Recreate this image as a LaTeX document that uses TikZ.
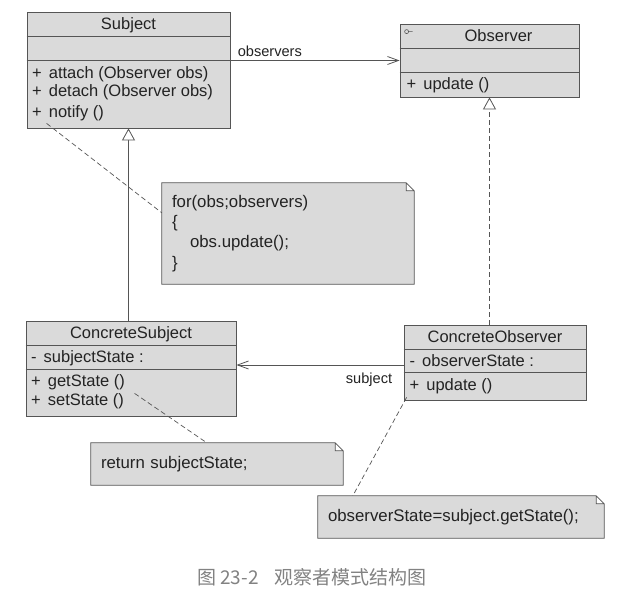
\documentclass[tikz,border=0pt]{standalone}
\usepackage{fontspec}
\setmainfont{Liberation Sans}
\newfontfamily\cjkfont{Noto Sans CJK SC}
\usetikzlibrary{arrows.meta,backgrounds}
\definecolor{boxfill}{RGB}{218,218,218}
\definecolor{boxline}{RGB}{85,85,85}
\definecolor{inktext}{RGB}{35,35,35}
\definecolor{captiongray}{RGB}{130,130,130}

\begin{document}
\begin{tikzpicture}[x=1pt,y=-1pt]
  \tikzstyle{class box}=[draw=boxline,fill=boxfill,line width=0.8pt,inner sep=0];
  \tikzstyle{note box}=[inner sep=0,inner xsep=10pt,align=left,text=inktext,font=\fontsize{16.8}{20.3}\selectfont];
  \tikzstyle{title}=[text=inktext,font=\fontsize{16.5}{19}\selectfont,inner sep=0,text height=11.8pt,text depth=0pt];
  \tikzstyle{member}=[title,anchor=west];
  \tikzstyle{role}=[text=inktext,font=\fontsize{14.6}{17}\selectfont,inner sep=2pt,text height=10.4pt,text depth=0pt];
  \tikzstyle{border}=[draw=boxline,line width=0.8pt];
  \tikzstyle{note link}=[draw=boxline,line width=0.7pt,dash pattern=on 5pt off 3pt];
  \tikzstyle{inherit}=[border,-{Triangle[open,length=12pt,width=13pt,fill=white]}];
  \tikzstyle{assoc}=[border,-{Straight Barb[length=11pt,width=8pt]}];
  \useasboundingbox (0,0) rectangle (631,597);
  % classes
  \node[class box,minimum width=203pt,minimum height=116pt] (subj) at (128.5,70) {};
  \node[class box,minimum width=179pt,minimum height=73pt] (obs) at (489.5,60.5) {};
  \node[class box,minimum width=210pt,minimum height=95pt] (cs) at (131,368.5) {};
  \node[class box,minimum width=182pt,minimum height=75pt] (co) at (495,362.5) {};
  \foreach \n/\a/\b in {subj/36/60,obs/48/72,cs/345/369,co/349/372}
    \draw[border] (\n.west |- 0,\a) -- (\n.east |- 0,\a) (\n.west |- 0,\b) -- (\n.east |- 0,\b);
  \draw[border,line width=0.6pt] ([xshift=7pt,yshift=-8pt]obs.north west) circle (2pt) ++(2,0) -- ++(4,0);
  \node[title] (subj-title) at (subj.north |- 0,24) {Subject};
  \node[title] (obs-title) at (498.5,36) {Observer};
  \node[title] (cs-title) at (cs.north |- 0,333) {ConcreteSubject};
  \node[title] (co-title) at (co.north |- 0,337) {ConcreteObserver};
  \foreach \y/\t [count=\i] in {73/{attach (Observer obs)},91/{detach (Observer obs)},112/{notify ()}}
    \node[member] (subj-op\i) at (32,\y) {+\hspace{7pt}\t};
  \node[member] (obs-op1) at (406.5,84) {+\hspace{7pt}update ()};
  \node[member] (cs-attr1) at (31,357) {-\hspace{7pt}subjectState :};
  \node[member] (cs-op1) at (31,381) {+\hspace{7pt}getState ()};
  \node[member] (cs-op2) at (31,400) {+\hspace{7pt}setState ()};
  \node[member] (co-attr1) at (409.5,361) {-\hspace{7pt}observerState :};
  \node[member] (co-op1) at (409.5,385) {+\hspace{7pt}update ()};
  % notes
  \node[note box,text width=232pt,minimum height=101pt] (fornote) at (288,233.5)
    {for(obs;observers)\\\{\\\hspace*{18pt}obs.update();\\\}};
  \node[note box,text width=232pt,minimum height=42pt] (retnote) at (217,464) {return subjectState;};
  \node[note box,text width=266pt,minimum height=42pt] (obsnote) at (461,517) {observerState=subject.getState();};
  \begin{scope}[on background layer]
    \fill[white] (0,0) rectangle (631,597);
    \foreach \n in {fornote,retnote,obsnote}
      \filldraw[border,fill=boxfill] (\n.south west) -- (\n.north west) -- ([xshift=-8pt]\n.north east)
        -- ([yshift=-8pt]\n.north east) -- (\n.south east) -- cycle
        ([xshift=-8pt]\n.north east) -- ++(0,8) -- ++(8,0);
  \end{scope}
  % relations
  \draw[assoc] (subj.east |- obs.west) -- (obs.west)
    node[role,pos=0,anchor=south west,xshift=5pt,yshift=2pt] (obs-role) {observers};
  \draw[assoc] ([yshift=-2.5pt]co.west) -- ([yshift=-2.5pt]co.west -| cs.east)
    node[role,pos=0,anchor=north east,xshift=-9pt,yshift=-5.5pt] (co-role) {subject};
  \draw[inherit] (cs.north -| subj.south) -- (subj.south);
  \draw[inherit,dash pattern=on 5pt off 3pt] (co.north -| obs.south) -- (obs.south);
  \draw[note link] ([xshift=20pt,yshift=5pt]subj.south west) -- ([yshift=-30pt]fornote.north west);
  \draw[note link] ([xshift=109pt,yshift=23pt]cs.south west) -- ([xshift=116pt]retnote.north west);
  \draw[note link] ([xshift=3pt,yshift=3pt]co.south west) -- ([xshift=35pt]obsnote.north west);
  \node[text=captiongray,font=\cjkfont\fontsize{19}{22}\selectfont,inner sep=0,anchor=west] (caption)
    at (197,577) {图 23-2\hspace{16pt}观察者模式结构图};
\end{tikzpicture}
\end{document}
